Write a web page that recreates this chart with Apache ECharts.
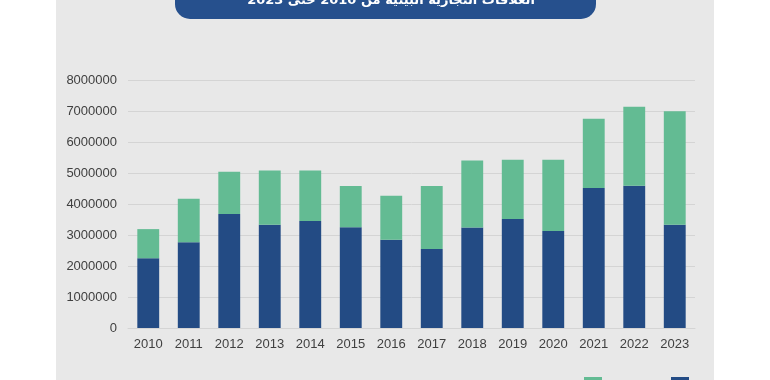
<!DOCTYPE html>
<html><head><meta charset="utf-8">
<script src="https://cdn.jsdelivr.net/npm/echarts@6/dist/echarts.min.js"></script>
<style>html,body{margin:0;padding:0;background:#fff}#c{width:770px;height:380px}</style>
</head><body><div id="c"></div>
<script>
const years = ['2010','2011','2012','2013','2014','2015','2016','2017','2018','2019','2020','2021','2022','2023'];
const blueName = 'الصادرات';
const greenName = 'الواردات';
const blueValues = [2250000,2770000,3680000,3330000,3450000,3250000,2850000,2550000,3240000,3520000,3130000,4520000,4590000,3330000];
const greenValues = [940000,1400000,1360000,1750000,1630000,1330000,1420000,2030000,2160000,1910000,2300000,2230000,2550000,3660000];
const titleText = 'العلاقات التجارية البينية من 2010 حتى 2023';

const chart = echarts.init(document.getElementById('c'));
const legendCommon = {padding:0, align:'right', itemWidth:18, itemHeight:12, icon:'rect',
  formatter: n => '\n' + n, textStyle:{fontSize:12, lineHeight:12, color:'#404040'}};
chart.setOption({
  animation: false,
  backgroundColor: '#ffffff',
  graphic: [
    {type:'rect', shape:{x:56,y:0,width:658,height:380}, style:{fill:'#E8E8E8'}, z:-10},
    {type:'rect', shape:{x:175,y:-30,width:421,height:49,r:15}, style:{fill:'#26508D'}, z:-5},
    {type:'text', x:391, y:7, style:{text:titleText, fill:'#ffffff', font:'bold 13px "DejaVu Sans"', textAlign:'center', textVerticalAlign:'bottom'}, z:-4}
  ],
  legend: [
    Object.assign({data:[greenName], right:168, top:371}, legendCommon),
    Object.assign({data:[blueName], right:81, top:371}, legendCommon)
  ],
  grid: {left:128, right:75, top:80, bottom:52},
  xAxis: {
    type:'category', data:years,
    axisLine:{lineStyle:{color:'#D4D4D4'}}, axisTick:{show:false},
    axisLabel:{color:'#404040', fontSize:13, margin:10, fontFamily:'Liberation Sans'}
  },
  yAxis: {
    type:'value', min:0, max:8000000, interval:1000000,
    splitLine:{lineStyle:{color:'#D4D4D4'}},
    axisLabel:{color:'#404040', fontSize:13, margin:11, fontFamily:'Liberation Sans', formatter: v => String(v)}
  },
  series: [
    {name:blueName, type:'bar', stack:'t', data:blueValues, barWidth:'54%', itemStyle:{color:'#234B84'}},
    {name:greenName, type:'bar', stack:'t', data:greenValues, itemStyle:{color:'#63BB93'}}
  ]
});
</script></body></html>
